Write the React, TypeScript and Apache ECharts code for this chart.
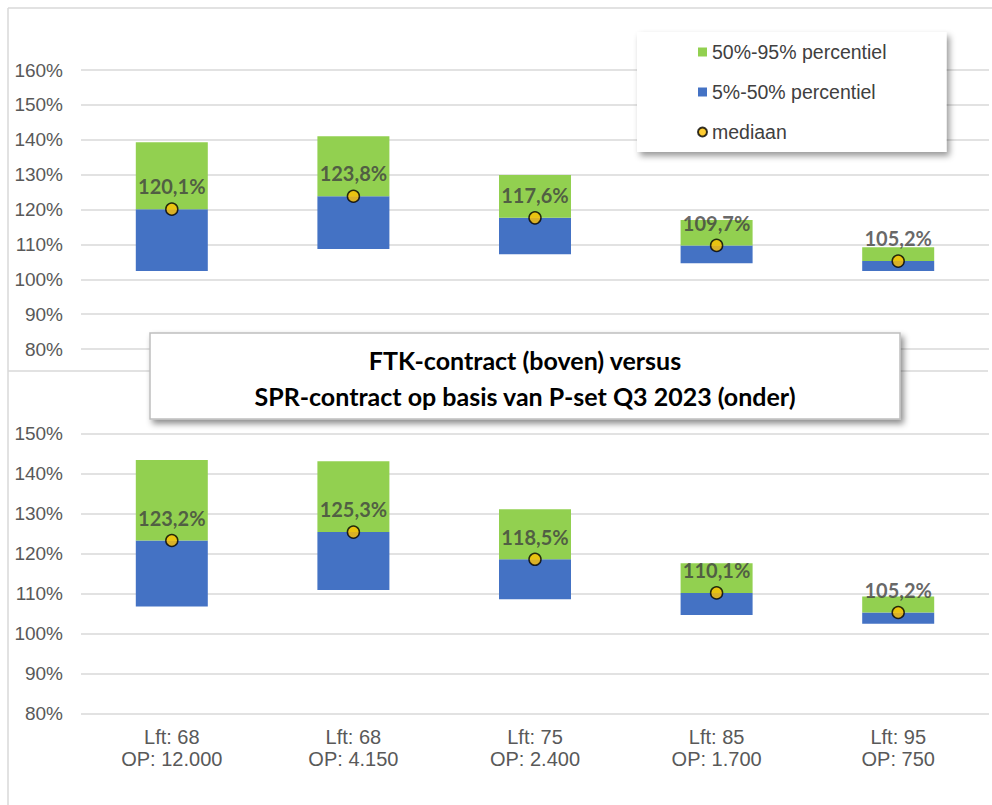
import React, { useEffect, useRef } from "react";
import * as echarts from "echarts";

const categories = [
  "Lft: 68\nOP: 12.000",
  "Lft: 68\nOP: 4.150",
  "Lft: 75\nOP: 2.400",
  "Lft: 85\nOP: 1.700",
  "Lft: 95\nOP: 750",
];

// FTK-contract (boven)
const ftkP5 = [102.4, 108.7, 107.2, 104.6, 102.4];
const ftkMedian = [120.1, 123.8, 117.6, 109.7, 105.2];
const ftkP95 = [139.3, 141.0, 129.9, 117.0, 109.2];

// SPR-contract (onder)
const sprP5 = [106.7, 110.8, 108.5, 104.6, 102.4];
const sprMedian = [123.2, 125.3, 118.5, 110.1, 105.2];
const sprP95 = [143.3, 143.0, 131.0, 117.5, 109.2];

const topTicks = { min: 80, max: 160, interval: 10 };
const bottomTicks = { min: 80, max: 150, interval: 10 };

const titleText = "FTK-contract (boven) versus\nSPR-contract op basis van P-set Q3 2023 (onder)";

const GREEN = "#92D050";
const BLUE = "#4472C4";
const GRID = "#d9d9d9";
const AXIS_TXT = "#595959";

const diff = (a: number[], b: number[]) => a.map((v, i) => +(v - b[i]).toFixed(2));
const fmt = (v: number) => v.toFixed(1).replace(".", ",") + "%";

function seriesFor(idx: number, p5: number[], med: number[], p95: number[]) {
  const stack = "s" + idx;
  return [
    {
      name: "base",
      type: "bar",
      xAxisIndex: idx,
      yAxisIndex: idx,
      stack,
      barWidth: 72,
      itemStyle: { color: "transparent" },
      emphasis: { disabled: true },
      data: p5,
    },
    {
      name: "5%-50% percentiel",
      type: "bar",
      xAxisIndex: idx,
      yAxisIndex: idx,
      stack,
      barWidth: 72,
      itemStyle: { color: BLUE },
      data: diff(med, p5),
    },
    {
      name: "50%-95% percentiel",
      type: "bar",
      xAxisIndex: idx,
      yAxisIndex: idx,
      stack,
      barWidth: 72,
      itemStyle: { color: GREEN },
      data: diff(p95, med),
    },
    {
      name: "mediaan",
      type: "scatter",
      xAxisIndex: idx,
      yAxisIndex: idx,
      symbol: "circle",
      symbolSize: 12,
      z: 5,
      itemStyle: { color: "#FFC000", borderColor: "#000", borderWidth: 1.5 },
      label: {
        show: true,
        position: "top",
        distance: 6,
        formatter: (p: any) => fmt(p.value),
        fontFamily: "Lato",
        fontWeight: "bold",
        fontSize: 20,
        color: "#404040",
      },
      data: med,
    },
  ];
}

export default function App() {
  const ref = useRef<HTMLDivElement>(null);
  useEffect(() => {
    document.body.style.margin = "0";
    const chart = echarts.init(ref.current!, undefined, { renderer: "svg" });
    const yAxisBase = {
      type: "value",
      axisLine: { show: false },
      axisTick: { show: false },
      splitLine: { lineStyle: { color: GRID, width: 1.5 } },
      axisLabel: {
        formatter: (v: number) => v + "%",
        fontFamily: "Liberation Sans",
        fontSize: 19,
        color: AXIS_TXT,
        margin: 18,
      },
    };
    chart.setOption({
      animation: false,
      grid: [
        { left: 81, top: 70, width: 908, height: 279 },
        { left: 81, top: 433.3, width: 908, height: 280 },
      ],
      xAxis: [
        {
          type: "category",
          gridIndex: 0,
          data: categories,
          axisLine: { show: false },
          axisTick: { show: false },
          axisLabel: { show: false },
        },
        {
          type: "category",
          gridIndex: 1,
          data: categories,
          axisLine: { show: false },
          axisTick: { show: false },
          axisLabel: {
            fontFamily: "Liberation Sans",
            fontSize: 20,
            lineHeight: 22,
            color: AXIS_TXT,
            margin: 13,
          },
        },
      ],
      yAxis: [
        { ...yAxisBase, gridIndex: 0, ...topTicks },
        { ...yAxisBase, gridIndex: 1, ...bottomTicks },
      ],
      legend: {
        orient: "vertical",
        left: 637,
        top: 32,
        padding: [10, 60, 10, 60],
        itemGap: 20,
        itemWidth: 9,
        itemHeight: 9,
        selectedMode: false,
        backgroundColor: "#fff",
        shadowBlur: 6,
        shadowColor: "rgba(0,0,0,0.4)",
        shadowOffsetX: 3,
        shadowOffsetY: 4,
        textStyle: {
          fontFamily: "Liberation Sans",
          fontSize: 19.5,
          lineHeight: 20,
          color: "#404040",
        },
        data: [
          { name: "50%-95% percentiel", icon: "rect" },
          { name: "5%-50% percentiel", icon: "rect" },
          { name: "mediaan", icon: "circle" },
        ],
      },
      graphic: [
        { type: "line", z: 50, shape: { x1: 8, y1: 8, x2: 8, y2: 805 }, style: { stroke: GRID, lineWidth: 1.5 } },
        { type: "line", z: 50, shape: { x1: 8, y1: 8, x2: 992, y2: 8 }, style: { stroke: GRID, lineWidth: 1.5 } },
        { type: "line", z: 50, shape: { x1: 8, y1: 371, x2: 988, y2: 371 }, style: { stroke: GRID, lineWidth: 1.5 } },
        {
          type: "rect",
          z: 100,
          shape: { x: 150, y: 333, width: 750, height: 86 },
          style: {
            fill: "#fff",
            stroke: "#bfbfbf",
            lineWidth: 1.5,
            shadowBlur: 6,
            shadowColor: "rgba(0,0,0,0.45)",
            shadowOffsetX: 3,
            shadowOffsetY: 4,
          },
        },
        {
          type: "text",
          z: 101,
          x: 525,
          y: 378,
          style: {
            text: titleText,
            align: "center",
            verticalAlign: "middle",
            fontFamily: "Lato",
            fontWeight: "bold",
            fontSize: 25,
            lineHeight: 36,
            fill: "#000",
          },
        },
      ],
      series: [
        ...seriesFor(0, ftkP5, ftkMedian, ftkP95),
        ...seriesFor(1, sprP5, sprMedian, sprP95),
      ],
    });
    return () => chart.dispose();
  }, []);
  return <div ref={ref} style={{ width: 992, height: 805, overflow: "hidden" }} />;
}
